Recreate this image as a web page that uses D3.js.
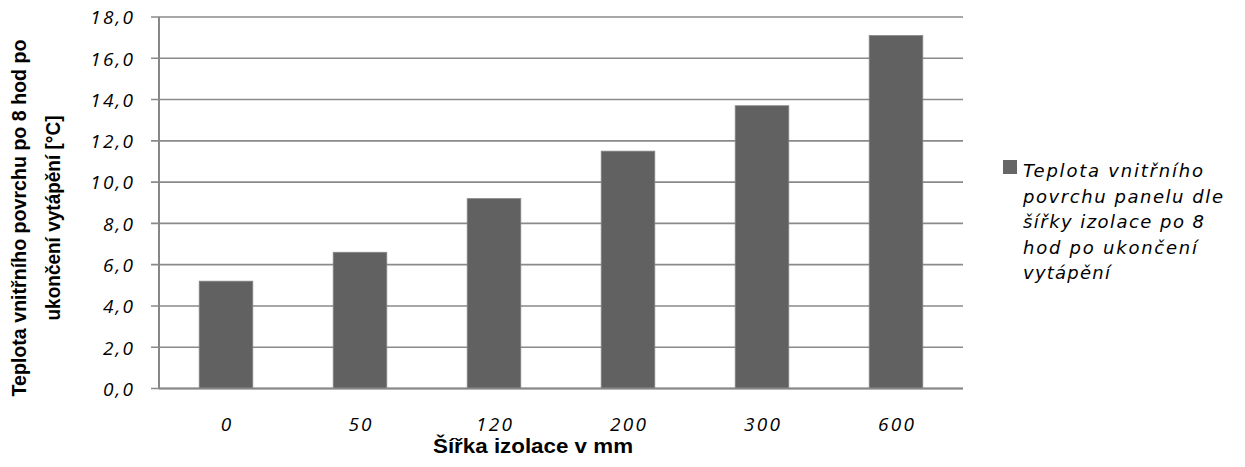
<!DOCTYPE html>
<html>
<head>
<meta charset="utf-8">
<script src="https://cdn.jsdelivr.net/npm/d3@7"></script>
<style>
  html, body { margin: 0; padding: 0; background: #fff; }
  svg { display: block; }
</style>
</head>
<body>
<svg id="chart" width="1245" height="467"></svg>
<script>
// Insulation width categories (mm) and inner surface temperature after 8 h (°C)
const categories = ["0", "50", "120", "200", "300", "600"];
const values = [5.2, 6.6, 9.2, 11.5, 13.7, 17.1];
const yTicks = [0, 2, 4, 6, 8, 10, 12, 14, 16, 18];
const yTitleLines = ["Teplota vnitřního povrchu po 8 hod po", "ukončení vytápění [°C]"];
const xTitle = "Šířka izolace  v mm";
const legendLines = ["Teplota vnitřního", "povrchu panelu dle", "šířky izolace po 8", "hod po ukončení", "vytápění"];

const svg = d3.select("#chart");
const plot = { left: 159, right: 963, top: 17, bottom: 388.5 };

const x = d3.scaleBand()
  .domain(categories)
  .range([plot.left, plot.right])
  .paddingInner(0.6)
  .paddingOuter(0.3);

const y = d3.scaleLinear()
  .domain([0, 18])
  .range([plot.bottom, plot.top]);

const fmt = v => v.toFixed(1).replace(".", ",");
const tickFont = "'Open Sans', sans-serif";
const legendFont = "'DejaVu Sans', sans-serif";
const boldFont = "'Liberation Sans Narrow', 'Liberation Sans', Arial, sans-serif";
const tickSpacing = 2.2;

// Horizontal gridlines with short outside ticks
svg.append("g")
  .selectAll("line")
  .data(yTicks)
  .join("line")
  .attr("x1", plot.left - 8)
  .attr("x2", plot.right)
  .attr("y1", d => y(d))
  .attr("y2", d => y(d))
  .attr("stroke", "#8a8a8a")
  .attr("stroke-width", 1.6);

// Y axis tick labels
const yAxis = d3.axisLeft(y).tickValues(yTicks).tickFormat(fmt).tickSize(0).tickPadding(0);
const gy = svg.append("g").attr("transform", `translate(${133 + tickSpacing},0)`).call(yAxis);
gy.select(".domain").remove();
gy.selectAll("text")
  .attr("font-family", tickFont)
  .attr("font-style", "italic")
  .attr("font-size", 19)
  .attr("letter-spacing", tickSpacing)
  .attr("fill", "#000")
  .attr("dy", "0.36em");

// Bars
svg.append("g")
  .selectAll("rect")
  .data(values)
  .join("rect")
  .attr("x", (d, i) => x(categories[i]))
  .attr("width", x.bandwidth())
  .attr("y", d => y(d))
  .attr("height", d => y(0) - y(d))
  .attr("fill", "#616161")
  .attr("stroke", "#858585")
  .attr("stroke-width", 0.8);

// Axis lines
svg.append("line")
  .attr("x1", plot.left).attr("x2", plot.left)
  .attr("y1", plot.top).attr("y2", plot.bottom)
  .attr("stroke", "#878787").attr("stroke-width", 2);
svg.append("line")
  .attr("x1", plot.left).attr("x2", plot.right)
  .attr("y1", plot.bottom).attr("y2", plot.bottom)
  .attr("stroke", "#878787").attr("stroke-width", 2);

// X axis category labels
const xAxis = d3.axisBottom(x).tickSize(0).tickPadding(0);
const gx = svg.append("g").attr("transform", `translate(0,${plot.bottom})`).call(xAxis);
gx.select(".domain").remove();
gx.selectAll("text")
  .attr("font-family", tickFont)
  .attr("font-style", "italic")
  .attr("font-size", 19)
  .attr("letter-spacing", tickSpacing)
  .attr("fill", "#000")
  .attr("dx", tickSpacing / 2)
  .attr("dy", 0)
  .attr("y", 42);

// X axis title
svg.append("text")
  .attr("x", 433)
  .attr("y", 453)
  .attr("font-family", boldFont)
  .attr("font-weight", "bold")
  .attr("font-size", 20)
  .attr("textLength", 200)
  .attr("lengthAdjust", "spacingAndGlyphs")
  .attr("fill", "#000")
  .text(xTitle);

// Y axis title (two rotated lines)
const yTitleX = [26, 60];
const yTitleLen = [357, 205];
yTitleLines.forEach((t, i) => {
  svg.append("text")
    .attr("transform", `translate(${yTitleX[i]},218) rotate(-90)`)
    .attr("text-anchor", "middle")
    .attr("font-family", boldFont)
    .attr("font-weight", "bold")
    .attr("font-size", 21)
    .attr("textLength", yTitleLen[i])
    .attr("lengthAdjust", "spacingAndGlyphs")
    .attr("fill", "#000")
    .text(t);
});

// Legend
const legend = svg.append("g");
legend.append("rect")
  .attr("x", 1003).attr("y", 160)
  .attr("width", 14).attr("height", 14)
  .attr("fill", "#666");
const legendLen = [180, 200, 181, 174, 87];
legend.selectAll("text")
  .data(legendLines)
  .join("text")
  .attr("x", 1023)
  .attr("y", (d, i) => 177 + i * 25.5)
  .attr("font-family", legendFont)
  .attr("font-style", "italic")
  .attr("font-size", 18)
  .attr("textLength", (d, i) => legendLen[i])
  .attr("lengthAdjust", "spacing")
  .attr("fill", "#000")
  .text(d => d);
</script>
</body>
</html>
